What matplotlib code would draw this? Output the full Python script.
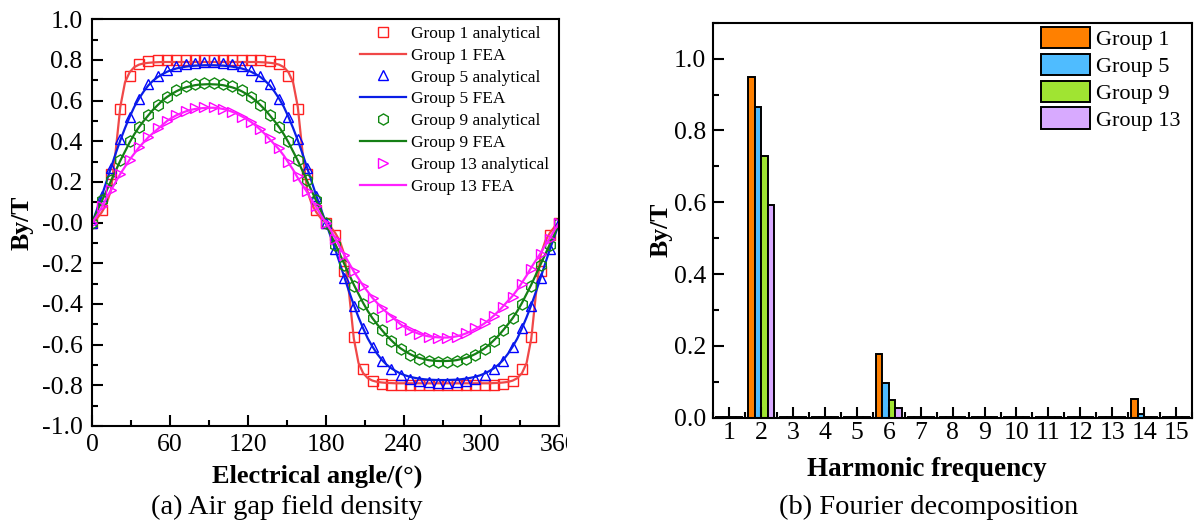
import matplotlib
matplotlib.use("Agg")
import matplotlib.pyplot as plt
import numpy as np
from matplotlib.ticker import MultipleLocator, FormatStrFormatter
from matplotlib.transforms import Bbox, TransformedBbox

plt.rcParams['font.family'] = ['Liberation Serif', 'DejaVu Serif']
plt.rcParams['axes.unicode_minus'] = False

# ---- (a) air gap field density ----
# analytical points every 7.2 deg, FEA curve every 3.6 deg
angle_an = np.linspace(0, 360, 51)
angle_fea = np.linspace(0, 360, 101)

g1_an = [0.00, 0.06, 0.24, 0.56, 0.72, 0.78, 0.795,
         0.80, 0.80, 0.80, 0.80, 0.80, 0.80, 0.80, 0.80, 0.80, 0.80, 0.80, 0.80,
         0.795, 0.78, 0.72, 0.56, 0.24, 0.06, 0.00,
         -0.06, -0.24, -0.56, -0.72, -0.78, -0.795,
         -0.80, -0.80, -0.80, -0.80, -0.80, -0.80, -0.80, -0.80, -0.80, -0.80, -0.80, -0.80,
         -0.795, -0.78, -0.72, -0.56, -0.24, -0.06, 0.00]
g5_an = [0.00, 0.13, 0.27, 0.41, 0.52, 0.61, 0.68, 0.72, 0.75, 0.77, 0.78, 0.785, 0.79,
         0.79, 0.785, 0.78, 0.77, 0.75, 0.72, 0.68, 0.61, 0.52, 0.41, 0.27, 0.13, 0.00,
         -0.13, -0.27, -0.41, -0.52, -0.61, -0.68, -0.72, -0.75, -0.77, -0.78, -0.785, -0.79,
         -0.79, -0.785, -0.78, -0.77, -0.75, -0.72, -0.68, -0.61, -0.52, -0.41, -0.27, -0.13, 0.00]
g9_an = [0.00, 0.11, 0.21, 0.31, 0.40, 0.47, 0.53, 0.58, 0.62, 0.65, 0.67, 0.68, 0.685,
         0.685, 0.68, 0.67, 0.65, 0.62, 0.58, 0.53, 0.47, 0.40, 0.31, 0.21, 0.11, 0.00,
         -0.11, -0.21, -0.31, -0.40, -0.47, -0.53, -0.58, -0.62, -0.65, -0.67, -0.68, -0.685,
         -0.685, -0.68, -0.67, -0.65, -0.62, -0.58, -0.53, -0.47, -0.40, -0.31, -0.21, -0.11, 0.00]
g13_an = [0.00, 0.08, 0.16, 0.24, 0.31, 0.37, 0.42, 0.465, 0.50, 0.53, 0.55, 0.562, 0.568,
          0.568, 0.56, 0.545, 0.52, 0.495, 0.46, 0.415, 0.365, 0.30, 0.23, 0.155, 0.08, 0.00,
          -0.08, -0.16, -0.24, -0.31, -0.37, -0.42, -0.465, -0.50, -0.53, -0.55, -0.562, -0.568,
          -0.568, -0.56, -0.545, -0.52, -0.495, -0.46, -0.415, -0.365, -0.30, -0.23, -0.155, -0.08, 0.00]

g1_fea = [0.00, 0.02, 0.05, 0.09, 0.16, 0.35, 0.57, 0.69, 0.74, 0.765, 0.777, 0.783, 0.786, 0.788, 0.789,
          0.79, 0.79, 0.79, 0.79, 0.79, 0.79, 0.79, 0.79, 0.79, 0.79, 0.79,
          0.79, 0.79, 0.79, 0.79, 0.79, 0.79, 0.79, 0.79, 0.79, 0.79,
          0.789, 0.788, 0.786, 0.783, 0.777, 0.765, 0.74, 0.69, 0.57, 0.35, 0.16, 0.09, 0.05, 0.02, 0.00,
          -0.02, -0.05, -0.09, -0.16, -0.35, -0.57, -0.69, -0.74, -0.765, -0.777, -0.783, -0.786, -0.788, -0.789,
          -0.79, -0.79, -0.79, -0.79, -0.79, -0.79, -0.79, -0.79, -0.79, -0.79, -0.79,
          -0.79, -0.79, -0.79, -0.79, -0.79, -0.79, -0.79, -0.79, -0.79, -0.79,
          -0.789, -0.788, -0.786, -0.783, -0.777, -0.765, -0.74, -0.69, -0.57, -0.35, -0.16, -0.09, -0.05, -0.02, 0.00]
g5_fea = [0.00, 0.065, 0.13, 0.20, 0.27, 0.34, 0.405, 0.465, 0.52, 0.57, 0.61, 0.645, 0.675,
          0.698, 0.716, 0.73, 0.742, 0.751, 0.758, 0.763, 0.767, 0.77, 0.772, 0.773, 0.774, 0.774,
          0.774, 0.773, 0.772, 0.77, 0.767, 0.763, 0.758, 0.751, 0.742, 0.73, 0.716, 0.698,
          0.675, 0.645, 0.61, 0.57, 0.52, 0.465, 0.405, 0.34, 0.27, 0.20, 0.13, 0.065, 0.00,
          -0.065, -0.13, -0.20, -0.27, -0.34, -0.405, -0.465, -0.52, -0.57, -0.61, -0.645, -0.675,
          -0.698, -0.716, -0.73, -0.742, -0.751, -0.758, -0.763, -0.767, -0.77, -0.772, -0.773, -0.774, -0.774,
          -0.774, -0.773, -0.772, -0.77, -0.767, -0.763, -0.758, -0.751, -0.742, -0.73, -0.716, -0.698,
          -0.675, -0.645, -0.61, -0.57, -0.52, -0.465, -0.405, -0.34, -0.27, -0.20, -0.13, -0.065, 0.00]
g9_fea = [0.00, 0.055, 0.105, 0.155, 0.205, 0.255, 0.305, 0.35, 0.395, 0.435, 0.47, 0.50, 0.528,
          0.555, 0.578, 0.60, 0.618, 0.633, 0.646, 0.657, 0.665, 0.671, 0.676, 0.679, 0.68, 0.681,
          0.68, 0.679, 0.676, 0.671, 0.665, 0.657, 0.646, 0.633, 0.618, 0.60, 0.578, 0.555,
          0.528, 0.50, 0.47, 0.435, 0.395, 0.35, 0.305, 0.255, 0.205, 0.155, 0.105, 0.055, 0.00,
          -0.055, -0.105, -0.155, -0.205, -0.255, -0.305, -0.35, -0.395, -0.435, -0.47, -0.50, -0.528,
          -0.555, -0.578, -0.60, -0.618, -0.633, -0.646, -0.657, -0.665, -0.671, -0.676, -0.679, -0.68, -0.681,
          -0.68, -0.679, -0.676, -0.671, -0.665, -0.657, -0.646, -0.633, -0.618, -0.60, -0.578, -0.555,
          -0.528, -0.50, -0.47, -0.435, -0.395, -0.35, -0.305, -0.255, -0.205, -0.155, -0.105, -0.055, 0.00]
g13_fea = [0.00, 0.035, 0.075, 0.12, 0.16, 0.20, 0.24, 0.275, 0.31, 0.34, 0.37, 0.395, 0.42,
           0.44, 0.46, 0.48, 0.50, 0.515, 0.528, 0.538, 0.547, 0.554, 0.559, 0.562, 0.564, 0.565,
           0.565, 0.563, 0.559, 0.553, 0.545, 0.535, 0.523, 0.51, 0.495, 0.477, 0.457, 0.435,
           0.41, 0.385, 0.36, 0.33, 0.295, 0.26, 0.22, 0.185, 0.15, 0.11, 0.075, 0.035, 0.00,
           -0.035, -0.075, -0.12, -0.16, -0.20, -0.24, -0.275, -0.31, -0.34, -0.37, -0.395, -0.42,
           -0.44, -0.46, -0.48, -0.50, -0.515, -0.528, -0.538, -0.547, -0.554, -0.559, -0.562, -0.564, -0.565,
           -0.565, -0.563, -0.559, -0.553, -0.545, -0.535, -0.523, -0.51, -0.495, -0.477, -0.457, -0.435,
           -0.41, -0.385, -0.36, -0.33, -0.295, -0.26, -0.22, -0.185, -0.15, -0.11, -0.075, -0.035, 0.00]

# ---- (b) Fourier decomposition ----
harmonics = np.arange(1, 16)
group_names = ['Group 1', 'Group 5', 'Group 9', 'Group 13']
amp_g1 = [0.003, 0.95, 0.003, 0.002, 0.002, 0.178, 0.002, 0.001, 0.001, 0.002, 0.001, 0.001, 0.001, 0.053, 0.001]
amp_g5 = [0.002, 0.865, 0.003, 0.002, 0.001, 0.097, 0.002, 0.001, 0.001, 0.001, 0.001, 0.001, 0.001, 0.009, 0.001]
amp_g9 = [0.002, 0.728, 0.002, 0.001, 0.001, 0.048, 0.001, 0.001, 0.001, 0.001, 0.001, 0.001, 0.001, 0.003, 0.001]
amp_g13 = [0.002, 0.592, 0.002, 0.001, 0.001, 0.026, 0.001, 0.001, 0.001, 0.001, 0.001, 0.001, 0.001, 0.002, 0.001]

W, H = 1197, 524
fig = plt.figure(figsize=(W / 100, H / 100), dpi=100)
ax1 = fig.add_axes([92.3 / W, 1 - 426 / H, (559.3 - 92.3) / W, (426 - 19.3) / H])
ax2 = fig.add_axes([713.3 / W, 1 - 417.7 / H, (1192 - 713.3) / W, (417.7 - 22.7) / H])

series = [
    ('Group 1', g1_an, g1_fea, 's', 6.5, '#ff2020', '#f04848'),
    ('Group 5', g5_an, g5_fea, '^', 7.5, '#0000ff', '#0a1ee6'),
    ('Group 9', g9_an, g9_fea, 'h', 8.0, '#118811', '#157f15'),
    ('Group 13', g13_an, g13_fea, '>', 7.5, '#ff00ff', '#ff20ff'),
]
for name, an, fea, mk, ms, mc, lc in series:
    ax1.plot(angle_an, an, ls='none', marker=mk, ms=ms, mfc='none', mec=mc, mew=1.0,
             label=f'{name} analytical')
    ax1.plot(angle_fea, fea, color=lc, lw=1.6, label=f'{name} FEA')

ax1.set_xlim(0, 360)
ax1.set_ylim(-1, 1)
ax1.set_xticks(np.arange(0, 361, 60))
ax1.xaxis.set_minor_locator(MultipleLocator(30))
ax1.set_yticks(np.arange(-1.0, 1.01, 0.2))
ax1.yaxis.set_minor_locator(MultipleLocator(0.1))
ax1.yaxis.set_major_formatter(FormatStrFormatter('%.1f'))
ax1.tick_params(which='both', direction='in', width=1.5, labelsize=18.5)
ax1.tick_params(which='major', length=8)
ax1.tick_params(which='minor', length=4)
ax1.tick_params(axis='y', pad=7)
ax1.tick_params(axis='x', pad=6)
for s in ax1.spines.values():
    s.set_linewidth(1.5)

ax1.set_xlabel('Electrical angle/(°)', fontsize=19, fontweight='bold')
ax1.set_ylabel('By/T', fontsize=18.5, fontweight='bold')
ax1.xaxis.set_label_coords(0.481, -0.096)
ax1.yaxis.set_label_coords(-0.125, 0.5)

ax1.legend(loc='upper right', bbox_to_anchor=(1.0, 1.01), frameon=False, fontsize=12.5,
           handlelength=2.6, labelspacing=0.33, handletextpad=0.3, borderaxespad=0.2)

# the source panel is cropped just right of the axes
clip = TransformedBbox(Bbox.from_extents(0, 0, 567 / W, 1), fig.transFigure)
for t in ax1.get_xticklabels():
    t.set_clip_on(True)
    t.set_clip_box(clip)

# bars
colors = ['#ff8000', '#4fbcff', '#a0e432', '#d8aaff']
offsets = [-0.3, -0.1, 0.1, 0.3]
for name, amps, col, off in zip(group_names, [amp_g1, amp_g5, amp_g9, amp_g13], colors, offsets):
    ax2.bar(harmonics + off, amps, width=0.2, color=col, edgecolor='black', linewidth=1.4, label=name)

ax2.set_xlim(0.5, 15.5)
ax2.set_ylim(0, 1.1)
ax2.set_xticks(harmonics)
ax2.xaxis.set_minor_locator(MultipleLocator(0.5))
ax2.set_yticks(np.arange(0, 1.01, 0.2))
ax2.yaxis.set_minor_locator(MultipleLocator(0.1))
ax2.yaxis.set_major_formatter(FormatStrFormatter('%.1f'))
ax2.tick_params(which='both', direction='in', width=1.5, labelsize=18.5)
ax2.tick_params(which='major', length=8)
ax2.tick_params(which='minor', length=4)
ax2.tick_params(axis='y', pad=5)
ax2.tick_params(axis='x', pad=3)
for s in ax2.spines.values():
    s.set_linewidth(1.5)

ax2.set_xlabel('Harmonic frequency', fontsize=19.5, fontweight='bold')
ax2.set_ylabel('By/T', fontsize=18.5, fontweight='bold')
ax2.xaxis.set_label_coords(0.446, -0.0995)
ax2.yaxis.set_label_coords(-0.086, 0.475)

ax2.legend(loc='upper right', bbox_to_anchor=(1.0, 1.017), frameon=False, fontsize=16,
           handlelength=2.2, handleheight=1.1, labelspacing=0.16, handletextpad=0.3,
           borderaxespad=0.1)

fig.text(287 / W, 1 - 507 / H, '(a) Air gap field density', ha='center', va='center', fontsize=20.5)
fig.text(929 / W, 1 - 507 / H, '(b) Fourier decomposition', ha='center', va='center', fontsize=20.5)

fig.savefig('out.png', dpi=100)
